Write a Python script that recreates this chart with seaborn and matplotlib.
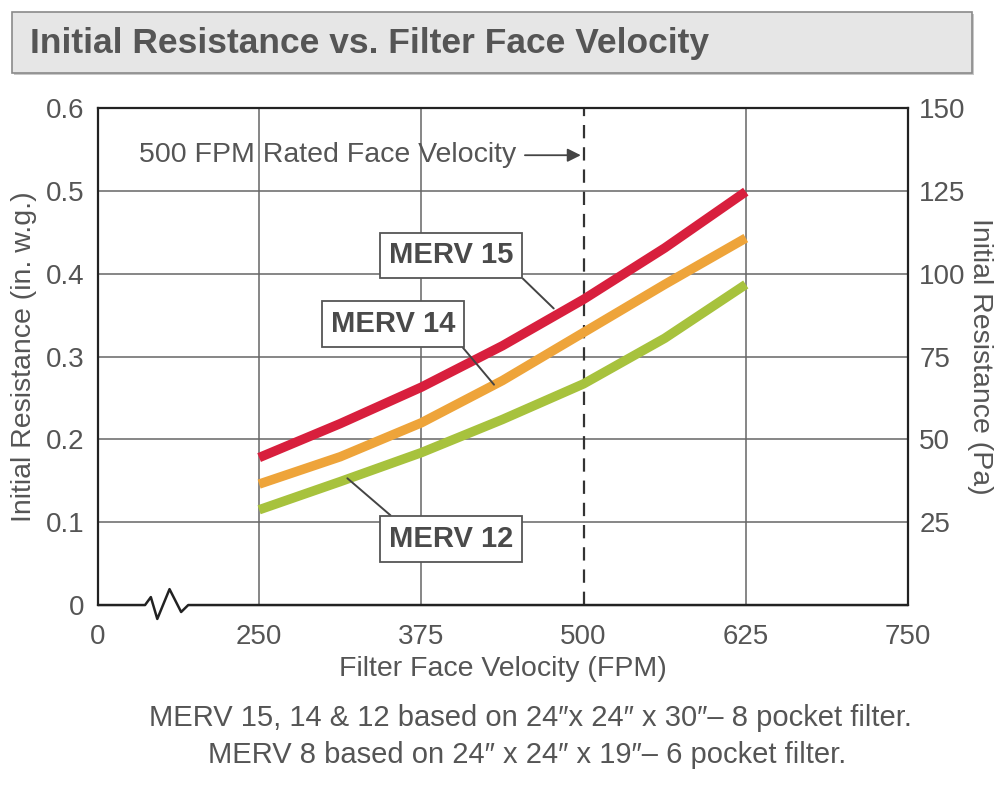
import numpy as np
import pandas as pd
import seaborn as sns
import matplotlib
matplotlib.use("Agg")
import matplotlib.pyplot as plt
from matplotlib.patches import Rectangle
import matplotlib.transforms as mtransforms

# Data (in. w.g. vs FPM)
velocity = [250, 312.5, 375, 437.5, 500, 562.5, 625]
merv15 = [0.178, 0.219, 0.263, 0.313, 0.369, 0.431, 0.499]
merv14 = [0.146, 0.179, 0.220, 0.271, 0.329, 0.387, 0.443]
merv12 = [0.115, 0.149, 0.184, 0.224, 0.267, 0.322, 0.387]
series_names = ["MERV 15", "MERV 14", "MERV 12"]
colors = ["#d81f3d", "#eea43a", "#a7c23d"]

x_ticks = [0, 250, 375, 500, 625, 750]
y_ticks = [0, 0.1, 0.2, 0.3, 0.4, 0.5, 0.6]
pa_ticks = [25, 50, 75, 100, 125, 150]
rated_velocity = 500

df = pd.DataFrame({
    "velocity": velocity * 3,
    "resistance": merv15 + merv14 + merv12,
    "filter": np.repeat(series_names, len(velocity)),
})

gray = "#555555"
fs = 20
sns.set_style("white")
plt.rcParams["font.family"] = ["Liberation Sans", "DejaVu Sans"]


# broken x axis: 0-250 compressed, 250-750 linear
def fwd(x):
    x = np.asarray(x, dtype=float)
    return np.where(x <= 250, x * 0.644, 161 + (x - 250) * 1.2968)


def inv(p):
    p = np.asarray(p, dtype=float)
    return np.where(p <= 161, p / 0.644, 250 + (p - 161) / 1.2968)


fig = plt.figure(figsize=(10.03, 8), dpi=100)
ax = fig.add_axes([0.0977, 0.2437, 0.8076, 0.6213])

# title box
fig.patches.append(Rectangle((14 / 1003, 1 - 75 / 800), 960 / 1003, 61 / 800,
                             transform=fig.transFigure, facecolor="#c8c8c8",
                             edgecolor="none", zorder=0))
fig.patches.append(Rectangle((12 / 1003, 1 - 73 / 800), 960 / 1003, 61 / 800,
                             transform=fig.transFigure, facecolor="#e6e6e6",
                             edgecolor="#8a8a8a", lw=1.2, zorder=1))
fig.text(30 / 1003, 1 - 43 / 800, "Initial Resistance vs. Filter Face Velocity",
         fontsize=25.5, fontweight="bold", color="#555555", va="center", ha="left")

sns.lineplot(data=df, x="velocity", y="resistance", hue="filter",
             palette=colors, hue_order=series_names, lw=6.8, legend=False,
             ax=ax, zorder=4, solid_capstyle="butt", solid_joinstyle="round")

ax.set_xscale("function", functions=(fwd, inv))
ax.set_xlim(0, 750)
ax.set_ylim(0, 0.6)
ax.set_xticks(x_ticks)
ax.set_xticklabels([str(t) for t in x_ticks])
ax.set_yticks(y_ticks)
ax.set_yticklabels(["0"] + [f"{t:.1f}" for t in y_ticks[1:]])
ax.tick_params(axis="x", length=0, labelsize=fs, colors=gray, pad=14)
ax.tick_params(axis="y", length=0, labelsize=fs, colors=gray, pad=10)

# grid
for xv in [250, 375, 625]:
    ax.axvline(xv, color="#666666", lw=1.1, zorder=1)
for yv in y_ticks[1:-1]:
    ax.axhline(yv, color="#666666", lw=1.1, zorder=1)
ax.axvline(rated_velocity, color="#333333", lw=1.6, ls=(0, (6, 4)), zorder=2)

for side in ["top", "left", "right"]:
    ax.spines[side].set_color("#222222")
    ax.spines[side].set_linewidth(1.6)
ax.spines["bottom"].set_visible(False)

# bottom axis line with break zigzag
trans = mtransforms.blended_transform_factory(ax.transData, ax.transAxes)
zx = [0, 73, 82, 92, 111, 129, 140, 750]
zy = [0, 0, 0.016, -0.028, 0.032, -0.014, 0, 0]
ax.plot(zx, zy, transform=trans, color="#222222", lw=1.8, clip_on=False, zorder=5)

ax.set_xlabel("Filter Face Velocity (FPM)", fontsize=fs + 0.5, color=gray, labelpad=4)
ax.set_ylabel("Initial Resistance (in. w.g.)", fontsize=fs + 0.5, color=gray, labelpad=6)

# right axis in Pa
ax2 = ax.twinx()
ax2.set_ylim(0, 150)
ax2.set_yticks(pa_ticks)
ax2.tick_params(length=0, labelsize=fs, colors=gray, pad=8)
for s in ax2.spines.values():
    s.set_visible(False)
ax2.set_ylabel("Initial Resistance (Pa)", fontsize=fs + 0.5, color=gray,
               rotation=270, labelpad=20)

# annotations
ax.annotate("500 FPM Rated Face Velocity", xy=(rated_velocity, 0.543),
            xytext=(448, 0.543), ha="right", va="center", fontsize=fs + 0.5,
            color=gray, zorder=6,
            arrowprops=dict(arrowstyle="-|>", color="#444444", lw=1.3,
                            mutation_scale=20, shrinkA=4, shrinkB=2))

box = dict(boxstyle="square,pad=0.3", fc="white", ec="#555555", lw=1.3)
labels = [
    ("MERV 15", (477, 0.358), (398, 0.422), (1, 0)),
    ("MERV 14", (431, 0.266), (353, 0.339), (1, 0)),
    ("MERV 12", (318, 0.153), (398, 0.080), (0.1, 1)),
]
for txt, tip, pos, rp in labels:
    ax.annotate(txt, xy=tip, xytext=pos, ha="center", va="center",
                fontsize=21, fontweight="bold", color="#4a4a4a", bbox=box,
                zorder=7,
                arrowprops=dict(arrowstyle="-", color="#444444", lw=1.4,
                                shrinkA=0, shrinkB=0, relpos=rp))

fig.text(530 / 1003, 1 - 718 / 800,
         "MERV 15, 14 & 12 based on 24\u2033x 24\u2033 x 30\u2033\u2013 8 pocket filter.",
         fontsize=21, color=gray, ha="center", va="center")
fig.text(527 / 1003, 1 - 755 / 800,
         "MERV 8 based on 24\u2033 x 24\u2033 x 19\u2033\u2013 6 pocket filter.",
         fontsize=21, color=gray, ha="center", va="center")

fig.savefig("out.png", dpi=100)
